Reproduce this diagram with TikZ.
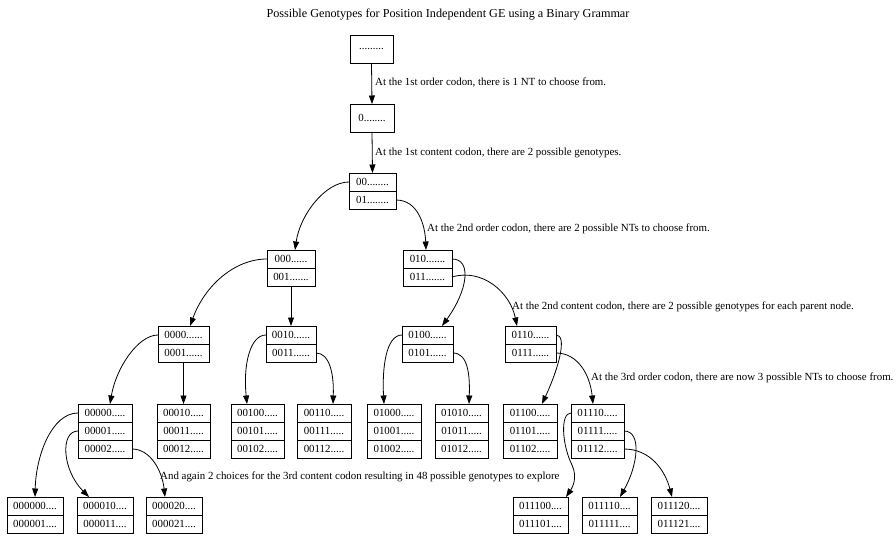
\documentclass[tikz,border=0pt]{standalone}
\usepackage{fontspec}
\setmainfont{Liberation Serif}
\usetikzlibrary{arrows.meta}

% two- and three-field record nodes: name, left x, top y, width, field texts
\newcommand{\recTwo}[6]{%
  \node[cell, minimum width=#4pt, anchor=north west] (#1a) at (#2,#3) {#5};
  \node[cell, minimum width=#4pt, anchor=north] (#1b) at (#1a.south) {#6};}
\newcommand{\recThree}[7]{%
  \node[cell, minimum width=#4pt, anchor=north west] (#1a) at (#2,#3) {#5};
  \node[cell, minimum width=#4pt, anchor=north] (#1b) at (#1a.south) {#6};
  \node[cell, minimum width=#4pt, anchor=north] (#1c) at (#1b.south) {#7};}

\begin{document}
\begin{tikzpicture}[x=1pt,y=-1pt,
  txt/.style={font=\fontsize{10.9}{13}\selectfont, text=black},
  cell/.style={draw=black, line width=0.8pt, inner sep=0pt, outer sep=0pt, minimum height=18pt, txt},
  single/.style={cell, minimum height=28pt},
  edgelbl/.style={txt, anchor=west, inner sep=0pt},
  link/.style={draw=black, line width=0.8pt, -{Triangle[length=8.5pt,width=6pt]}}]
\useasboundingbox (0,0) rectangle (896,537);

\node[txt, font=\fontsize{12.2}{14}\selectfont] (title) at (448,15) {Possible Genotypes for Position Independent GE using a Binary Grammar};

% root and first order codon
\node[single, minimum width=43pt, anchor=north west] (n0) at (350,35) {.........};
\node[single, minimum width=44pt, anchor=north west] (n1) at (350,104) {0........};

% content / order levels
\recTwo{n2}{349}{173}{47}{00........}{01........}
\recTwo{n3}{267}{250}{48}{000......}{001.......}
\recTwo{n4}{403}{250}{49}{010.......}{011.......}
\recTwo{n5}{158}{326}{51}{0000......}{0001......}
\recTwo{n6}{266}{326}{50}{0010......}{0011......}
\recTwo{n7}{402}{326}{51}{0100......}{0101......}
\recTwo{n8}{505}{326}{51}{0110......}{0111......}

\recThree{n9}{78}{404}{54}{00000.....}{00001.....}{00002.....}
\recThree{n10}{157}{404}{53}{00010.....}{00011.....}{00012.....}
\recThree{n11}{231}{404}{53}{00100.....}{00101.....}{00102.....}
\recThree{n12}{297}{404}{54}{00110.....}{00111.....}{00112.....}
\recThree{n13}{367}{404}{54}{01000.....}{01001.....}{01002.....}
\recThree{n14}{435}{404}{53}{01010.....}{01011.....}{01012.....}
\recThree{n15}{503}{404}{54}{01100.....}{01101.....}{01102.....}
\recThree{n16}{571}{404}{53}{01110.....}{01111.....}{01112.....}

\recTwo{n17}{7}{497}{56}{000000....}{000001....}
\recTwo{n18}{77}{497}{56}{000010....}{000011....}
\recTwo{n19}{146}{497}{56}{000020....}{000021....}
\recTwo{n20}{513}{497}{55}{011100....}{011101....}
\recTwo{n21}{582}{497}{55}{011110....}{011111....}
\recTwo{n22}{651}{497}{56}{011120....}{011121....}

% edge labels
\node[edgelbl] (l1) at (375,83) {At the 1st order codon, there is 1 NT to choose from.};
\node[edgelbl] (l2) at (375,153) {At the 1st content codon, there are 2 possible genotypes.};
\node[edgelbl] (l3) at (427,229) {At the 2nd order codon, there are 2 possible NTs to choose from.};
\node[edgelbl] (l4) at (512,307) {At the 2nd content codon, there are 2 possible genotypes for each parent node.};
\node[edgelbl] (l5) at (591,378) {At the 3rd order codon, there are now 3 possible NTs to choose from.};
\node[edgelbl] (l6) at (160,477) {And again 2 choices for the 3rd content codon resulting in 48 possible genotypes to explore};

% connectors
\draw[link] (n0.south) -- (n1.north);
\draw[link] (n1.south) -- (n2a.north);
\draw[link] (n2a.west) .. controls (325,182) and (300,215) .. ([xshift=4pt]n3a.north);
\draw[link] (n2b.east) .. controls (418,200) and (425,225) .. ([xshift=-1.5pt]n4a.north);
\draw[link] (n3b.south) -- (n6a.north);
\draw[link] (n3a.west) .. controls (235,259) and (205,285) .. ([xshift=6.5pt]n5a.north);
\draw[link] (n4a.east) .. controls (472,259) and (468,290) .. ([xshift=14.5pt]n7a.north);
\draw[link] (n4b.east) .. controls (482,268) and (510,292) .. ([xshift=-13.5pt]n8a.north);
\draw[link] (n5a.west) .. controls (138,335) and (116,368) .. ([xshift=5pt]n9a.north);
\draw[link] (n5b.south) -- (n10a.north);
\draw[link] (n6a.west) .. controls (250,335) and (243,365) .. ([xshift=-10.5pt]n11a.north);
\draw[link] (n6b.east) .. controls (330,353) and (334,375) .. ([xshift=9pt]n12a.north);
\draw[link] (n7a.west) .. controls (386,335) and (382,368) .. ([xshift=-10pt]n13a.north);
\draw[link] (n7b.east) .. controls (468,353) and (470,375) .. ([xshift=7.5pt]n14a.north);
\draw[link] (n8a.east) .. controls (567,335) and (560,365) .. ([xshift=12pt]n15a.north);
\draw[link] (n8b.east) .. controls (578,353) and (590,375) .. ([xshift=-4.5pt]n16a.north);
\draw[link] (n9a.west) .. controls (52,413) and (36,455) .. (n17a.north);
\draw[link] (n9b.west) .. controls (60,431) and (62,470) .. ([xshift=-16pt]n18a.north);
\draw[link] (n9c.east) .. controls (150,449) and (162,470) .. ([xshift=-9pt]n19a.north);
\draw[link] (n16a.west) .. controls (560,413) and (562,445) .. (572,465)
  .. controls (578,478) and (572,488) .. ([xshift=25.5pt]n20a.north);
\draw[link] (n16b.east) .. controls (642,431) and (638,465) .. ([xshift=10.5pt]n21a.north);
\draw[link] (n16c.east) .. controls (650,449) and (665,470) .. ([xshift=-7pt]n22a.north);
\end{tikzpicture}
\end{document}
